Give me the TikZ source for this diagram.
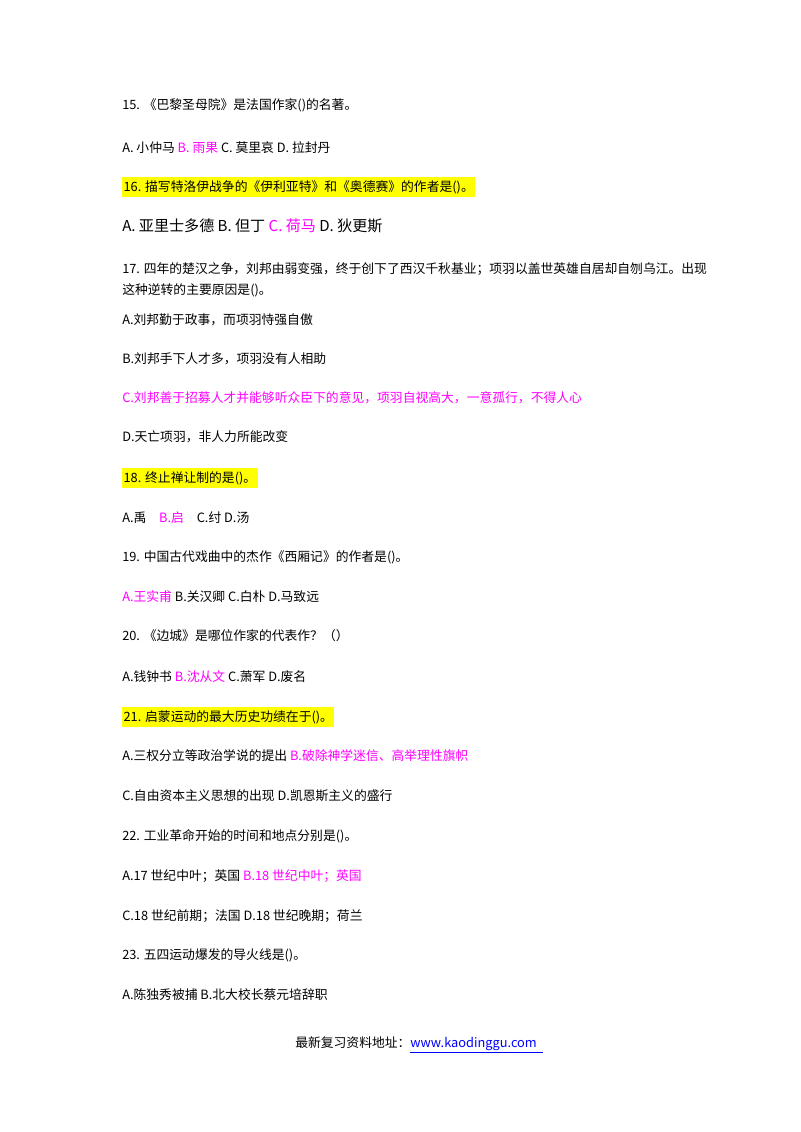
\documentclass[tikz,border=0pt]{standalone}
\usepackage{fontspec}
\setmainfont{Noto Sans CJK SC}
\newfontfamily\lat{Liberation Serif}
\definecolor{mag}{RGB}{255,0,255}
\definecolor{hl}{RGB}{255,255,0}
\definecolor{lnk}{RGB}{0,0,255}
\begin{document}
\begin{tikzpicture}[x=0.75pt,y=-0.75pt,
  t/.style={anchor=west,inner sep=0pt,font=\fontsize{9.6pt}{11pt}\selectfont},
  h/.style={t,fill=hl,inner ysep=2.5pt,inner xsep=1pt}]
\useasboundingbox (0,0) rectangle (800,1132);
\node[t] (l15) at (122,105) {15. 《巴黎圣母院》是法国作家()的名著。};
\node[t] (a15) at (122,148) {A. 小仲马 \textcolor{mag}{B. 雨果} C. 莫里哀 D. 拉封丹};
\node[h] (l16) at (122,187) {16. 描写特洛伊战争的《伊利亚特》和《奥德赛》的作者是()。};
\node[t,font=\fontsize{11.3pt}{13pt}\selectfont] (a16) at (122,226) {A. 亚里士多德 B. 但丁 \textcolor{mag}{C. 荷马} D. 狄更斯};
\node[t] (l17a) at (122,269) {17. 四年的楚汉之争，刘邦由弱变强，终于创下了西汉千秋基业；项羽以盖世英雄自居却自刎乌江。出现};
\node[t] (l17b) at (122,290) {这种逆转的主要原因是()。};
\node[t] (a17a) at (122,320) {A.刘邦勤于政事，而项羽恃强自傲};
\node[t] (a17b) at (122,359) {B.刘邦手下人才多，项羽没有人相助};
\node[t,text=mag] (a17c) at (122,398) {C.刘邦善于招募人才并能够听众臣下的意见，项羽自视高大，一意孤行，不得人心};
\node[t] (a17d) at (122,437) {D.天亡项羽，非人力所能改变};
\node[h] (l18) at (122,478) {18. 终止禅让制的是()。};
\node[t] (a18) at (122,518) {A.禹\quad\textcolor{mag}{B.启}\quad C.纣 D.汤};
\node[t] (l19) at (122,557) {19. 中国古代戏曲中的杰作《西厢记》的作者是()。};
\node[t] (a19) at (122,597) {\textcolor{mag}{A.王实甫} B.关汉卿 C.白朴 D.马致远};
\node[t] (l20) at (122,636) {20. 《边城》是哪位作家的代表作？（）};
\node[t] (a20) at (122,677) {A.钱钟书 \textcolor{mag}{B.沈从文} C.萧军 D.废名};
\node[h] (l21) at (122,717) {21. 启蒙运动的最大历史功绩在于()。};
\node[t] (a21a) at (122,756) {A.三权分立等政治学说的提出 \textcolor{mag}{B.破除神学迷信、高举理性旗帜}};
\node[t] (a21b) at (122,796) {C.自由资本主义思想的出现 D.凯恩斯主义的盛行};
\node[t] (l22) at (122,836) {22. 工业革命开始的时间和地点分别是()。};
\node[t] (a22a) at (122,876) {A.17 世纪中叶；英国 \textcolor{mag}{B.18 世纪中叶；英国}};
\node[t] (a22b) at (122,916) {C.18 世纪前期；法国 D.18 世纪晚期；荷兰};
\node[t] (l23) at (122,955) {23. 五四运动爆发的导火线是()。};
\node[t] (a23) at (122,995) {A.陈独秀被捕 B.北大校长蔡元培辞职};
\node[t] (foot) at (295,1045) {最新复习资料地址：\textcolor{lnk}{\underline{www.kaodinggu.com\ \ }}};
\end{tikzpicture}
\end{document}
